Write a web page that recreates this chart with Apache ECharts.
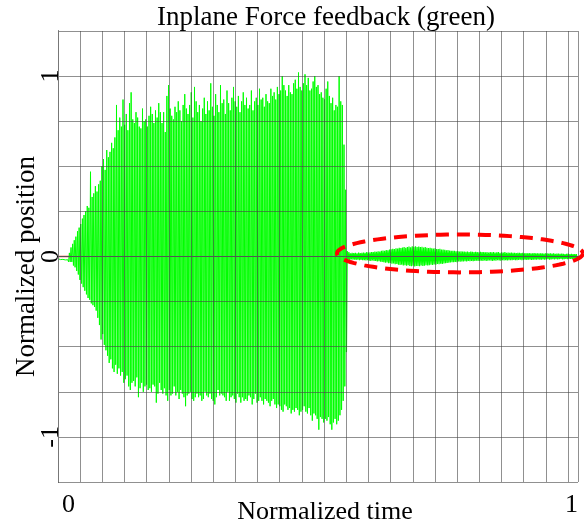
<!DOCTYPE html>
<html><head><meta charset="utf-8">
<script src="https://cdn.jsdelivr.net/npm/echarts@6/dist/echarts.min.js"></script>
<style>html,body{margin:0;padding:0;background:#fff}#c{width:584px;height:525px}</style>
</head><body><div id="c"></div>
<script>
const titleText = 'Inplane Force feedback (green)';
const xName = 'Normalized time';
const yName = 'Normalized position';
const xTickLabels = {'0': '0', '1': '1'};
const yTickLabels = {'-1': '-1', '0': '0', '1': '1'};

// Burst part (feedback off): alternating oscillation peaks, high then low
const burstStep = 1 / 640;
const burstHigh = [
 -0.012,-0.014,-0.015,-0.016,-0.015,-0.014,-0.018,0.02,0.05,0.07,
 0.09,0.11,0.14,0.16,0.18,0.21,0.23,0.25,0.28,0.27,
 0.47,0.33,0.35,0.39,0.36,0.40,0.42,0.50,0.54,0.48,
 0.59,0.55,0.58,0.63,0.60,0.66,0.84,0.70,0.77,0.72,
 0.87,0.73,0.79,0.70,0.85,0.91,0.76,0.74,0.80,0.77,
 0.72,0.71,0.82,0.75,0.76,0.72,0.78,0.83,0.79,0.74,
 0.81,0.77,0.85,0.80,0.74,0.80,0.69,0.89,0.95,0.82,
 0.78,0.76,0.83,0.80,0.86,0.81,0.75,0.84,0.90,0.82,
 0.79,0.84,0.91,0.77,0.94,0.86,0.80,0.84,0.75,0.82,
 0.88,0.79,0.86,0.81,0.96,0.83,0.78,0.90,0.84,0.80,
 0.95,0.85,0.87,0.79,0.92,0.85,0.81,0.88,0.94,0.86,
 0.83,0.89,0.80,0.86,0.91,0.84,0.88,0.82,0.84,0.92,
 0.81,0.86,0.88,0.84,0.93,0.87,0.88,0.83,0.90,0.86,
 0.85,0.93,0.89,0.91,0.87,0.94,0.90,0.92,1.00,0.95,
 0.92,0.89,0.95,0.91,0.90,0.96,0.98,0.93,1.02,0.94,
 0.92,0.96,1.01,0.95,0.99,0.92,0.93,0.97,1.00,0.94,
 0.95,0.90,0.91,0.88,0.87,0.93,0.97,0.89,0.85,0.88,
 0.81,0.84,0.83,1.00,0.86,0.84,0.62,0.37
];
const burstLow = [
 -0.016,-0.017,-0.018,-0.017,-0.019,-0.022,-0.030,-0.03,-0.03,-0.05,
 -0.06,-0.08,-0.10,-0.13,-0.15,-0.17,-0.19,-0.21,-0.23,-0.24,
 -0.26,-0.27,-0.28,-0.30,-0.34,-0.38,-0.46,-0.43,-0.49,-0.52,
 -0.55,-0.59,-0.57,-0.62,-0.64,-0.60,-0.65,-0.62,-0.66,-0.64,
 -0.70,-0.68,-0.66,-0.72,-0.74,-0.70,-0.69,-0.72,-0.67,-0.78,
 -0.73,-0.70,-0.75,-0.72,-0.71,-0.74,-0.73,-0.75,-0.71,-0.72,
 -0.81,-0.76,-0.70,-0.74,-0.76,-0.73,-0.77,-0.80,-0.74,-0.77,
 -0.76,-0.72,-0.77,-0.75,-0.79,-0.74,-0.76,-0.78,-0.83,-0.77,
 -0.76,-0.75,-0.79,-0.80,-0.78,-0.76,-0.78,-0.77,-0.80,-0.79,
 -0.75,-0.77,-0.78,-0.76,-0.79,-0.80,-0.82,-0.78,-0.74,-0.77,
 -0.76,-0.77,-0.78,-0.80,-0.75,-0.80,-0.78,-0.77,-0.79,-0.81,
 -0.76,-0.78,-0.81,-0.78,-0.80,-0.79,-0.80,-0.77,-0.78,-0.82,
 -0.79,-0.76,-0.81,-0.80,-0.78,-0.80,-0.82,-0.79,-0.80,-0.81,
 -0.83,-0.80,-0.79,-0.82,-0.84,-0.82,-0.83,-0.85,-0.86,-0.82,
 -0.83,-0.85,-0.84,-0.87,-0.85,-0.86,-0.84,-0.85,-0.88,-0.86,
 -0.85,-0.83,-0.86,-0.87,-0.84,-0.88,-0.91,-0.87,-0.88,-0.90,
 -0.96,-0.89,-0.90,-0.92,-0.90,-0.91,-0.89,-0.93,-0.96,-0.92,
 -0.90,-0.93,-0.91,-0.88,-0.85,-0.80,-0.72,-0.53
];
// Tail part (feedback on): alternating oscillation peaks, high then low
const tailStart = 356 / 640;
const tailStep = 1 / 640;
const tailHigh = [
 0.030,0.024,0.018,0.021,0.019,0.020,0.018,0.022,0.019,0.021,
 0.022,0.020,0.024,0.022,0.023,0.025,0.024,0.027,0.026,0.029,
 0.028,0.031,0.033,0.032,0.036,0.035,0.039,0.040,0.043,0.041,
 0.046,0.044,0.049,0.047,0.050,0.052,0.048,0.053,0.055,0.051,
 0.056,0.054,0.057,0.053,0.055,0.052,0.054,0.050,0.053,0.049,
 0.047,0.049,0.045,0.044,0.046,0.042,0.041,0.043,0.039,0.038,
 0.037,0.035,0.036,0.033,0.032,0.031,0.032,0.029,0.030,0.028,
 0.029,0.027,0.028,0.026,0.027,0.025,0.028,0.026,0.024,0.026,
 0.025,0.023,0.026,0.024,0.025,0.023,0.024,0.022,0.025,0.023,
 0.024,0.022,0.023,0.024,0.021,0.023,0.022,0.024,0.021,0.022,
 0.021,0.022,0.020,0.021,0.019,0.021,0.020,0.019,0.020,0.018,
 0.019,0.018,0.019,0.017,0.018,0.019,0.017,0.018,0.017,0.018,
 0.017,0.016,0.018,0.017,0.016,0.017,0.016,0.017,0.015,0.016,
 0.016,0.015,0.016,0.015,0.014,0.015,0.016,0.014,0.015,0.014,
 0.014,0.013
];
const tailLow = [
 -0.025,-0.020,-0.016,-0.018,-0.017,-0.019,-0.018,-0.020,-0.019,-0.021,
 -0.020,-0.022,-0.021,-0.023,-0.024,-0.022,-0.025,-0.024,-0.027,-0.026,
 -0.029,-0.030,-0.032,-0.034,-0.033,-0.037,-0.036,-0.040,-0.039,-0.043,
 -0.042,-0.045,-0.047,-0.046,-0.050,-0.048,-0.051,-0.049,-0.052,-0.054,
 -0.051,-0.055,-0.053,-0.052,-0.054,-0.050,-0.053,-0.051,-0.049,-0.050,
 -0.048,-0.046,-0.047,-0.044,-0.045,-0.042,-0.043,-0.040,-0.041,-0.038,
 -0.037,-0.036,-0.034,-0.033,-0.032,-0.031,-0.030,-0.031,-0.028,-0.029,
 -0.027,-0.028,-0.026,-0.027,-0.025,-0.026,-0.024,-0.026,-0.025,-0.023,
 -0.024,-0.025,-0.023,-0.024,-0.022,-0.024,-0.023,-0.022,-0.023,-0.024,
 -0.022,-0.023,-0.021,-0.022,-0.023,-0.021,-0.022,-0.020,-0.022,-0.021,
 -0.020,-0.021,-0.019,-0.020,-0.021,-0.019,-0.018,-0.020,-0.019,-0.018,
 -0.019,-0.017,-0.018,-0.019,-0.017,-0.018,-0.017,-0.016,-0.018,-0.017,
 -0.016,-0.017,-0.016,-0.015,-0.017,-0.016,-0.015,-0.016,-0.015,-0.016,
 -0.015,-0.014,-0.016,-0.015,-0.014,-0.015,-0.014,-0.013,-0.014,-0.014,
 -0.013,-0.013
];
const refTime = [0, 0.025];
const refValue = [0, 0];
const ellipseCenter = [0.773, 0.017];
const ellipseRadius = [0.2365, 0.105];

const burstData = [];
for (let k = 0; k < burstHigh.length; k++) {
  burstData.push([(2 * k) * burstStep, burstHigh[k]]);
  burstData.push([(2 * k + 1) * burstStep, burstLow[k]]);
}
const tailData = [burstData[burstData.length - 1]];
for (let k = 0; k < tailHigh.length; k++) {
  tailData.push([tailStart + (2 * k) * tailStep, tailHigh[k]]);
  tailData.push([tailStart + (2 * k + 1) * tailStep, tailLow[k]]);
}
const refData = refTime.map((t, i) => [t, refValue[i]]);

const serif = "'Liberation Serif', 'Times New Roman', serif";
const gridColor = 'rgba(70,70,70,0.6)';
const chart = echarts.init(document.getElementById('c'), null, {renderer: 'canvas'});
chart.setOption({
  animation: false,
  backgroundColor: '#fff',
  title: {
    text: titleText, left: 157, top: 4, padding: 0,
    textStyle: {fontFamily: serif, fontSize: 27, fontWeight: 'normal', color: '#000'}
  },
  grid: {left: 58, right: 6, top: 31, bottom: 43, show: false, containLabel: false, outerBoundsMode: 'none'},
  xAxis: [{
    type: 'value', min: 0, max: 1, interval: 0.04264, z: 5,
    name: xName, nameLocation: 'middle', nameGap: 17, nameMoveOverlap: false,
    nameTextStyle: {fontFamily: serif, fontSize: 26, color: '#000', padding: [0, 0, 0, 14]},
    axisLine: {show: true, lineStyle: {color: '#555'}},
    axisTick: {show: false},
    axisLabel: {
      fontFamily: serif, fontSize: 26, color: '#000', margin: 10, padding: [0, 0, 0, 4],
      alignMinLabel: 'left', alignMaxLabel: 'right', showMinLabel: true, showMaxLabel: true,
      formatter: v => { const key = String(Math.round(v * 1000) / 1000); return xTickLabels[key] || ''; }
    },
    splitLine: {show: true, lineStyle: {color: gridColor, width: 1}}
  }, {
    type: 'value', min: 0, max: 1, position: 'top', z: 5,
    axisLine: {show: true, lineStyle: {color: '#555'}},
    axisTick: {show: false}, axisLabel: {show: false}, splitLine: {show: false}
  }],
  yAxis: [{
    type: 'value', min: -1.25, max: 1.25, interval: 0.25, z: 5,
    name: yName, nameLocation: 'middle', nameGap: 18, nameRotate: 90, nameMoveOverlap: false,
    nameTextStyle: {fontFamily: serif, fontSize: 27, color: '#000', padding: [0, 20, 0, 0]},
    axisLine: {show: true, lineStyle: {color: '#000'}},
    axisTick: {show: false},
    axisLabel: {
      fontFamily: serif, fontSize: 26, color: '#000', rotate: 90, margin: -6,
      formatter: v => { const key = String(Math.round(v * 1000) / 1000); return yTickLabels[key] || ''; }
    },
    splitLine: {show: true, lineStyle: {color: gridColor, width: 1}}
  }, {
    type: 'value', min: -1.25, max: 1.25, position: 'right', z: 5,
    axisLine: {show: true, lineStyle: {color: '#777'}},
    axisTick: {show: false}, axisLabel: {show: false}, splitLine: {show: false}
  }],
  series: [
    {
      type: 'line', data: refData, symbol: 'none', silent: true,
      lineStyle: {color: '#ff3030', width: 1.5}, z: 2
    },
    {
      type: 'line', data: burstData, symbol: 'none', silent: true,
      lineStyle: {color: '#00ff00', width: 1}, z: 3
    },
    {
      type: 'line', data: tailData, symbol: 'none', silent: true,
      lineStyle: {color: '#00ff00', width: 1.2}, z: 3
    },
    {
      type: 'custom', silent: true, clip: false, z: 10,
      data: [[ellipseCenter[0], ellipseCenter[1], ellipseRadius[0], ellipseRadius[1]]],
      renderItem: (params, api) => {
        const c = api.coord([api.value(0), api.value(1)]);
        const s = api.size([api.value(2), api.value(3)]);
        const pts = [];
        for (let i = 0; i <= 120; i++) {
          const a = Math.PI * 2 * i / 120;
          pts.push([c[0] + s[0] * Math.cos(a), c[1] + s[1] * Math.sin(a)]);
        }
        return {
          type: 'polyline', shape: {points: pts},
          style: {stroke: '#ff0000', lineWidth: 4, lineDash: [13, 8], fill: null}
        };
      }
    }
  ]
});
</script>
</body></html>
